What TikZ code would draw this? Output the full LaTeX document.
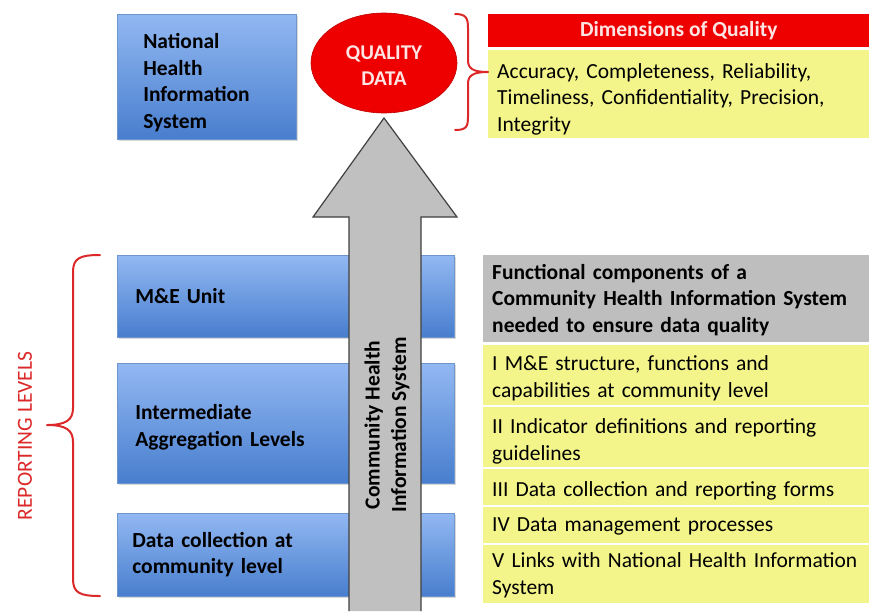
\documentclass[tikz,border=0pt]{standalone}
\usepackage{fontspec}
\setmainfont{Carlito}
\usetikzlibrary{shapes.geometric,shadows}
\definecolor{bluetop}{RGB}{146,184,242}
\definecolor{bluebot}{RGB}{72,126,206}
\definecolor{blueedge}{RGB}{110,150,205}
\definecolor{qred}{RGB}{238,0,0}
\definecolor{qyellow}{RGB}{243,245,138}
\definecolor{qgray}{RGB}{190,190,190}
\definecolor{arrowgray}{RGB}{192,192,192}
\definecolor{pinktext}{RGB}{255,228,228}
\definecolor{braced}{RGB}{220,40,40}
\newcommand{\lines}[3]{\hspace*{#1pt}\raisebox{-#2pt}[\height][\depth]{\parbox[c]{400pt}{\raggedright #3}}}
\tikzset{
  bluebox/.style={rectangle, top color=bluetop, bottom color=bluebot, draw=blueedge, line width=0.6pt,
    anchor=north west, align=left, inner xsep=0pt, font=\fontsize{21.5}{26.5}\selectfont\bfseries,
    drop shadow={shadow xshift=1.5pt, shadow yshift=-1.5pt, opacity=0.3}},
  ybox/.style={rectangle, fill=qyellow, anchor=north west, align=left, inner xsep=0pt,
    font=\fontsize{21.5}{26.5}\selectfont},
  gbox/.style={rectangle, fill=qgray, anchor=north west, align=left, inner xsep=0pt,
    font=\fontsize{21.5}{26.5}\selectfont\bfseries},
  bracestyle/.style={draw=braced, line width=2pt, line cap=round, line join=round},
}
\begin{document}
\begin{tikzpicture}[x=1pt,y=-1pt]
\useasboundingbox (0,0) rectangle (869,611);

% National box
\node[bluebox, minimum width=179, minimum height=125, text width=179] (nhis) at (117,14)
  {\lines{26}{6}{National\\Health\\Information\\System}};

% Quality data ellipse
\node[ellipse, fill=qred, draw=qred!80!black, line width=0.6pt, minimum width=146, minimum height=100,
  inner sep=0pt, text=pinktext, font=\fontsize{21}{26}\selectfont\bfseries] (qd) at (384,63)
  {\raisebox{-3pt}[\height][\depth]{\parbox[c]{84pt}{\centering QUALITY\\DATA}}};

% Dimensions header and body
\node[rectangle, fill=qred, anchor=north west, minimum width=381, minimum height=33,
  text=pinktext, font=\fontsize{21.5}{24}\selectfont\bfseries] (dimh) at (488,14) {Dimensions of Quality};
\node[ybox, minimum width=381, minimum height=88, text width=381] (dimb) at (488,50)
  {\lines{9}{5}{Accuracy, Completeness, Reliability,\\Timeliness, Confidentiality, Precision,\\Integrity}};

% top brace
\draw[bracestyle] (455,14) .. controls (466,14) and (468,18) .. (468,28) -- (468,60)
  .. controls (468,68) and (472,72) .. (488,72)
  .. controls (472,72) and (468,76) .. (468,84) -- (468,117)
  .. controls (468,127) and (466,130) .. (455,130);

% reporting level boxes
\node[bluebox, minimum width=337, minimum height=82, text width=337] (me) at (117,255)
  {\lines{18}{0}{M\&E Unit}};
\node[bluebox, minimum width=337, minimum height=120, text width=337] (inter) at (117,363)
  {\lines{18}{4}{Intermediate\\Aggregation Levels}};
\node[bluebox, minimum width=337, minimum height=83, text width=337] (dc) at (117,513)
  {\lines{15}{0}{Data collection at\\community level}};

% big arrow
\draw[fill=arrowgray, draw=black!75, line width=1.2pt, line join=miter]
  (349,611) -- (349,217) -- (313,217) -- (384,118) -- (457,217) -- (421,217) -- (421,611);
\node[rotate=90, align=center, font=\fontsize{21.5}{26.5}\selectfont\bfseries] (chis) at (387,425)
  {Community Health\\Information System};

% left brace
\draw[bracestyle] (100,255) .. controls (80,255) and (73,258) .. (73,272) -- (73,408)
  .. controls (73,420) and (66,425) .. (47,425)
  .. controls (66,425) and (73,430) .. (73,442) -- (73,579)
  .. controls (73,593) and (80,596) .. (100,596);
\node[rotate=90, text=braced, font=\fontsize{21.5}{24}\selectfont] (rl) at (25,436) {REPORTING LEVELS};

% right column
\node[gbox, minimum width=386, minimum height=87, text width=386] (fc) at (483,255)
  {\lines{9}{1}{Functional components of a\\Community Health Information System\\needed to ensure data quality}};
\node[ybox, minimum width=386, minimum height=60, text width=386] (c1) at (483,345)
  {\lines{9}{3}{I M\&E structure, functions and\\capabilities at community level}};
\node[ybox, minimum width=386, minimum height=60, text width=386] (c2) at (483,407)
  {\lines{9}{4}{II Indicator definitions and reporting\\guidelines}};
\node[ybox, minimum width=386, minimum height=36, text width=386] (c3) at (483,469)
  {\lines{9}{4}{III Data collection and reporting forms}};
\node[ybox, minimum width=386, minimum height=36, text width=386] (c4) at (483,507)
  {\lines{9}{1}{IV Data management processes}};
\node[ybox, minimum width=386, minimum height=58, text width=386] (c5) at (483,545)
  {\lines{9}{1}{V Links with National Health Information\\System}};
\end{tikzpicture}
\end{document}
